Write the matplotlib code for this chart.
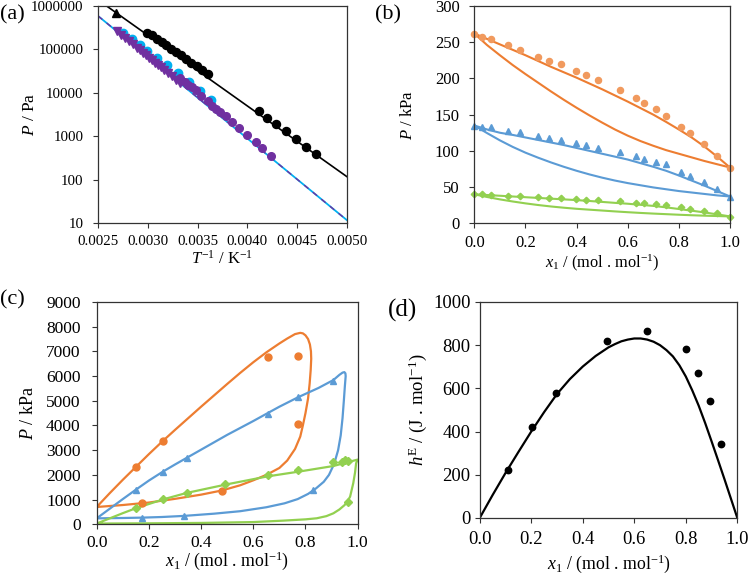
import matplotlib
matplotlib.use("Agg")
import matplotlib.pyplot as plt
from matplotlib.ticker import FixedLocator, FixedFormatter

plt.rcParams['font.family'] = ['Liberation Serif', 'DejaVu Serif']
plt.rcParams['mathtext.fontset'] = 'custom'
plt.rcParams['mathtext.rm'] = 'Liberation Serif'
plt.rcParams['mathtext.it'] = 'Liberation Serif:italic'

ORANGE = '#ED7D31'
ORANGE_PT = '#F19A5E'
BLUE = '#5B9BD5'
GREEN = '#92D050'
CYAN = '#00B0F0'
PURPLE = '#7030A0'

# ---- (a) vapour pressure vs 1/T ----
a_black_x = [0.00299, 0.00304, 0.00309, 0.00314, 0.00318, 0.00323, 0.00328, 0.00333,
             0.00338, 0.00343, 0.00349, 0.00355, 0.00361, 0.00412, 0.00420, 0.00429,
             0.00439, 0.00449, 0.00459, 0.00469]
a_black_p = [245000, 210000, 176000, 148000, 124000, 104000, 87000, 73000,
             61000, 50000, 42500, 34000, 27000, 3900, 2700, 1900,
             1350, 870, 570, 390]
a_black_tri_x = [0.00268]
a_black_tri_p = [700000]
a_black_line_x = [0.0025, 0.0050]
a_black_line_p = [1380000, 119]

a_cyan_x = [0.002755, 0.002838, 0.002922, 0.002996, 0.00309, 0.003197, 0.003301,
            0.003415, 0.003525, 0.00364]
a_cyan_p = [235000, 170000, 124000, 92000, 62000, 43000, 28000, 18000, 11300, 6700]

a_purple_tri_x = [0.00269, 0.00273, 0.00277, 0.00281, 0.00285, 0.00289, 0.00292,
                  0.00295, 0.00298, 0.00301, 0.00304, 0.00307, 0.00310, 0.00313,
                  0.00316, 0.00320, 0.00324, 0.00328, 0.00332]
a_purple_tri_p = [259000, 218000, 183000, 154000, 130000, 109000, 96000,
                  84000, 74000, 65000, 57000, 50000, 44000, 38600,
                  33900, 28600, 24000, 20200, 17000]
a_purple_x = [0.00332, 0.00337, 0.00340, 0.00344, 0.00348, 0.00354, 0.00361, 0.00365,
              0.00369, 0.00373, 0.00379, 0.00385, 0.00392, 0.00400, 0.00409, 0.00415,
              0.00424]
a_purple_p = [21500, 18000, 15600, 13500, 11400, 8300, 6400, 5100,
              4250, 3700, 2900, 2180, 1560, 1090, 730, 540, 345]
a_line_x = [0.0025, 0.0050]
a_line_p = [590000, 11.9]

a_xticks = [0.0025, 0.0030, 0.0035, 0.0040, 0.0045, 0.0050]
a_yticks = [10, 100, 1000, 10000, 100000, 1000000]

# ---- (b) P-x-y at low pressure ----
b_x_pts = [0.0, 0.031, 0.064, 0.133, 0.179, 0.250, 0.293, 0.338, 0.398, 0.435, 0.485,
           0.570, 0.632, 0.665, 0.709, 0.748, 0.808, 0.844, 0.900, 0.948, 1.0]
b_orange_pts = [261.4, 257.7, 254.5, 246.2, 239.3, 230.1, 224.6, 219.5, 210.8, 204.8, 197.9,
                184.1, 172.6, 166.1, 157.3, 148.2, 133.5, 125.2, 109.5, 93.0, 75.9]
b_blue_pts = [134.4, 133.5, 132.5, 127.9, 125.6, 120.6, 118.3, 115.0, 110.4, 108.1, 104.5,
              98.0, 93.0, 89.3, 85.1, 81.9, 70.4, 65.8, 56.6, 46.9, 36.8]
b_green_pts = [40.0, 40.0, 39.1, 38.2, 37.3, 36.4, 35.4, 34.5, 33.6, 32.7, 31.8,
               30.4, 28.5, 27.6, 26.2, 24.9, 22.1, 20.2, 17.0, 13.8, 9.2]

b_line_x = [0.0, 0.05, 0.1, 0.15, 0.2, 0.25, 0.3, 0.35, 0.4, 0.45, 0.5, 0.55, 0.6,
            0.65, 0.7, 0.75, 0.8, 0.85, 0.9, 0.95, 1.0]
b_orange_bub = [262, 254.5, 247, 239.5, 232, 224, 216, 208.5, 201, 193, 185, 176.5, 168,
                159, 150, 140, 129.5, 118.5, 106, 92, 77]
b_orange_dew = [262, 246, 232, 218.5, 206, 194, 182, 170.5, 159.5, 149, 139, 129.5, 121,
                113.5, 107, 101, 96, 91, 86, 81.5, 77]
b_blue_bub = [135, 129.5, 125, 122, 118.5, 115, 111.5, 108, 104, 100, 96, 92, 88,
              83, 78, 72.5, 66, 59, 52, 44.5, 37]
b_blue_dew = [135, 124.5, 114.5, 105.5, 97.5, 90.5, 84, 78, 72.5, 67.5, 63, 59, 55.5,
              52.5, 49.5, 47, 44.5, 42.5, 40.5, 38.5, 37]
b_green_bub = [40, 39, 38, 37, 36, 35, 34, 33, 32, 30.8, 29.5, 28.2, 27,
               25.5, 24, 22, 19.7, 17.4, 15, 12.3, 9.5]
b_green_dew = [40, 36.3, 33, 30.1, 27.5, 25.2, 23.2, 21.5, 20, 18.8, 17.6, 16.4, 15.3,
               14.3, 13.4, 12.6, 11.8, 11.1, 10.5, 10, 9.5]

# ---- (c) P-x-y at high pressure ----
c_orange_x = [0.15, 0.175, 0.255, 0.48, 0.655, 0.77, 0.77]
c_orange_p = [2300, 870, 3390, 1350, 6790, 6820, 4060]
c_blue_x = [0.15, 0.175, 0.255, 0.335, 0.345, 0.655, 0.773, 0.83, 0.907]
c_blue_p = [1390, 260, 2130, 340, 2680, 4460, 5140, 1390, 5810]
c_green_x = [0.15, 0.255, 0.345, 0.492, 0.655, 0.773, 0.907, 0.939, 0.951, 0.962, 0.962]
c_green_p = [660, 1025, 1280, 1650, 2010, 2200, 2510, 2540, 2600, 2580, 920]

c_orange_env_x = [0, 0.1, 0.2, 0.3, 0.4, 0.48, 0.55, 0.6, 0.65, 0.7, 0.73, 0.76, 0.78,
                  0.79, 0.80, 0.81, 0.816, 0.82, 0.822, 0.821, 0.817, 0.81, 0.8, 0.79,
                  0.78, 0.76, 0.73, 0.7, 0.65, 0.6, 0.55, 0.5, 0.45, 0.4, 0.35, 0.3,
                  0.25, 0.2, 0.15, 0.1, 0.05, 0]
c_orange_env_p = [700, 780, 880, 1030, 1200, 1370, 1580, 1780, 2000, 2280, 2580, 3050, 3550,
                  4000, 4500, 5100, 5700, 6250, 6700, 7000, 7280, 7500, 7650, 7730,
                  7750, 7700, 7520, 7320, 6960, 6560, 6130, 5680, 5220, 4760, 4290, 3820,
                  3340, 2840, 2320, 1800, 1260, 700]
c_blue_env_x = [0, 0.1, 0.175, 0.25, 0.335, 0.45, 0.55, 0.65, 0.72, 0.77, 0.81, 0.84,
                0.87, 0.89, 0.91, 0.925, 0.935, 0.942, 0.947, 0.951, 0.954, 0.953, 0.949,
                0.942, 0.93, 0.907, 0.85, 0.773, 0.7, 0.655, 0.6, 0.5, 0.4, 0.345, 0.3,
                0.255, 0.2, 0.15, 0.1, 0.05, 0]
c_blue_env_p = [240, 255, 270, 295, 340, 430, 530, 690, 850, 1020, 1230, 1450,
                1720, 2000, 2450, 3000, 3600, 4300, 5000, 5600, 6000, 6110, 6160,
                6140, 6050, 5840, 5520, 5150, 4760, 4500, 4180, 3620, 3020, 2690, 2420,
                2140, 1770, 1400, 1020, 630, 240]
c_green_env_x = [0, 0.2, 0.4, 0.6, 0.715, 0.8, 0.843, 0.88, 0.907, 0.93, 0.95, 0.962,
                 0.971, 0.983, 0.99, 0.994, 1.0, 0.907, 0.773, 0.655, 0.5, 0.345, 0.255,
                 0.15, 0.1, 0.05, 0]
c_green_env_p = [30, 40, 55, 90, 148, 200, 243, 330, 445, 600, 780, 950,
                 1120, 1660, 2100, 2470, 2620, 2360, 2130, 1940, 1620, 1270, 1010,
                 650, 450, 240, 30]

# ---- (d) excess enthalpy ----
d_x_pts = [0.110, 0.204, 0.296, 0.494, 0.650, 0.799, 0.849, 0.892, 0.937]
d_h_pts = [224, 421, 579, 818, 864, 781, 670, 542, 341]
d_line_x = [0, 0.05, 0.1, 0.15, 0.2, 0.25, 0.3, 0.35, 0.4, 0.45, 0.5, 0.525, 0.55,
            0.575, 0.6, 0.625, 0.65, 0.675, 0.7, 0.725, 0.75, 0.775, 0.8, 0.825,
            0.85, 0.875, 0.9, 0.925, 0.95, 0.975, 1.0]
d_line_h = [0, 106, 208, 305, 400, 490, 574, 643, 701, 750, 790, 805, 818,
            826, 831, 831, 826, 816, 800, 777, 748, 707, 655, 591,
            520, 440, 355, 268, 180, 90, 0]

xlab = r'$x_1$ / (mol . mol$^{-1}$)'
ticks01 = [0, 0.2, 0.4, 0.6, 0.8, 1.0]
ticks01_lab = ['0.0', '0.2', '0.4', '0.6', '0.8', '1.0']

fig = plt.figure(figsize=(7.5, 5.74), dpi=100)


def style(ax, fs, xpad, ypad):
    for s in ax.spines.values():
        s.set_color('#333333')
        s.set_linewidth(0.9)
    ax.tick_params(direction='out', length=3.5, width=0.8, color='#333333',
                   labelsize=fs)
    ax.tick_params(axis='x', pad=xpad)
    ax.tick_params(axis='y', pad=ypad)
    ax.minorticks_off()


def labels(ax, xl, yl, fsx, fsy, xy, yx):
    ax.set_xlabel(xl, fontsize=fsx, va='center')
    ax.set_ylabel(yl, fontsize=fsy, va='center')
    ax.xaxis.set_label_coords(0.5, xy)
    ax.yaxis.set_label_coords(yx, 0.5)


# (a)
ax1 = fig.add_axes([0.1307, 0.6110, 0.3316, 0.3786])
ax1.set_yscale('log')
ax1.plot(a_black_line_x, a_black_line_p, color='black', lw=1.2)
ax1.plot(a_line_x, a_line_p, color=CYAN, lw=1.3)
ax1.plot(a_line_x, a_line_p, color=PURPLE, lw=1.0, ls=(0, (4, 4)))
ax1.plot(a_black_x, a_black_p, 'o', color='black', ms=5.8)
ax1.plot(a_black_tri_x, a_black_tri_p, '^', color='black', ms=5.5)
ax1.plot(a_cyan_x, a_cyan_p, 'o', color=CYAN, ms=6)
ax1.plot(a_purple_tri_x, a_purple_tri_p, 'v', color=PURPLE, ms=5.5)
ax1.plot(a_purple_x, a_purple_p, 'o', color=PURPLE, ms=5.5)
ax1.set_xlim(0.0025, 0.0050)
ax1.set_ylim(10, 1000000)
ax1.xaxis.set_major_locator(FixedLocator(a_xticks))
ax1.xaxis.set_major_formatter(FixedFormatter(['%.4f' % v for v in a_xticks]))
ax1.yaxis.set_major_locator(FixedLocator(a_yticks))
ax1.yaxis.set_major_formatter(FixedFormatter([str(v) for v in a_yticks]))
style(ax1, 10.7, 5, 7)
labels(ax1, r'$T^{-1}$ / K$^{-1}$', r'$P$ / Pa', 12, 12.5, -0.165, -0.273)

# (b)
ax2 = fig.add_axes([0.6324, 0.6110, 0.3409, 0.3786])
for yv in (b_orange_bub, b_orange_dew):
    ax2.plot(b_line_x, yv, color=ORANGE, lw=1.5)
for yv in (b_blue_bub, b_blue_dew):
    ax2.plot(b_line_x, yv, color=BLUE, lw=1.5)
for yv in (b_green_bub, b_green_dew):
    ax2.plot(b_line_x, yv, color=GREEN, lw=1.5)
ax2.plot(b_x_pts, b_orange_pts, 'o', color=ORANGE_PT, ms=4.4, clip_on=False)
ax2.plot(b_x_pts, b_blue_pts, '^', color=BLUE, ms=4.6, clip_on=False)
ax2.plot(b_x_pts, b_green_pts, 'D', color=GREEN, ms=3.3, clip_on=False)
ax2.set_xlim(0, 1)
ax2.set_ylim(0, 300)
ax2.set_xticks(ticks01)
ax2.set_xticklabels(ticks01_lab)
ax2.set_yticks(range(0, 301, 50))
style(ax2, 12, 5, 7)
labels(ax2, xlab, r'$P$ / kPa', 11.8, 12, -0.183, -0.259)

# (c)
ax3 = fig.add_axes([0.1289, 0.0866, 0.3480, 0.3873])
ax3.plot(c_orange_env_x, c_orange_env_p, color=ORANGE, lw=1.6)
ax3.plot(c_blue_env_x, c_blue_env_p, color=BLUE, lw=1.6)
ax3.plot(c_green_env_x, c_green_env_p, color=GREEN, lw=1.6)
ax3.plot(c_orange_x, c_orange_p, 'o', color=ORANGE, ms=5)
ax3.plot(c_blue_x, c_blue_p, '^', color=BLUE, ms=5)
ax3.plot(c_green_x, c_green_p, 'D', color=GREEN, ms=3.6)
ax3.set_xlim(0, 1)
ax3.set_ylim(0, 9000)
ax3.set_xticks(ticks01)
ax3.set_xticklabels(ticks01_lab)
ax3.set_yticks(range(0, 9001, 1000))
style(ax3, 12.5, 4, 8)
labels(ax3, xlab, r'$P$ / kPa', 12.8, 13, -0.166, -0.263)

# (d)
ax4 = fig.add_axes([0.6396, 0.0976, 0.3435, 0.3763])
ax4.plot(d_line_x, d_line_h, color='black', lw=1.6)
ax4.plot(d_x_pts, d_h_pts, 'o', color='black', ms=4.6)
ax4.set_xlim(0, 1)
ax4.set_ylim(0, 1000)
ax4.set_xticks(ticks01)
ax4.set_xticklabels(ticks01_lab)
ax4.set_yticks(range(0, 1001, 200))
style(ax4, 13.4, 6, 3)
labels(ax4, xlab, r'$h^{\mathrm{E}}$ / (J . mol$^{-1}$)', 12.8, 13.5, -0.213, -0.241)

# panel letters
fig.text(0.016, 0.974, '(a)', fontsize=16, ha='center', va='center')
fig.text(0.517, 0.974, '(b)', fontsize=16, ha='center', va='center')
fig.text(0.017, 0.477, '(c)', fontsize=16, ha='center', va='center')
fig.text(0.537, 0.460, '(d)', fontsize=18, ha='center', va='center')

fig.savefig('out.png', dpi=100)
